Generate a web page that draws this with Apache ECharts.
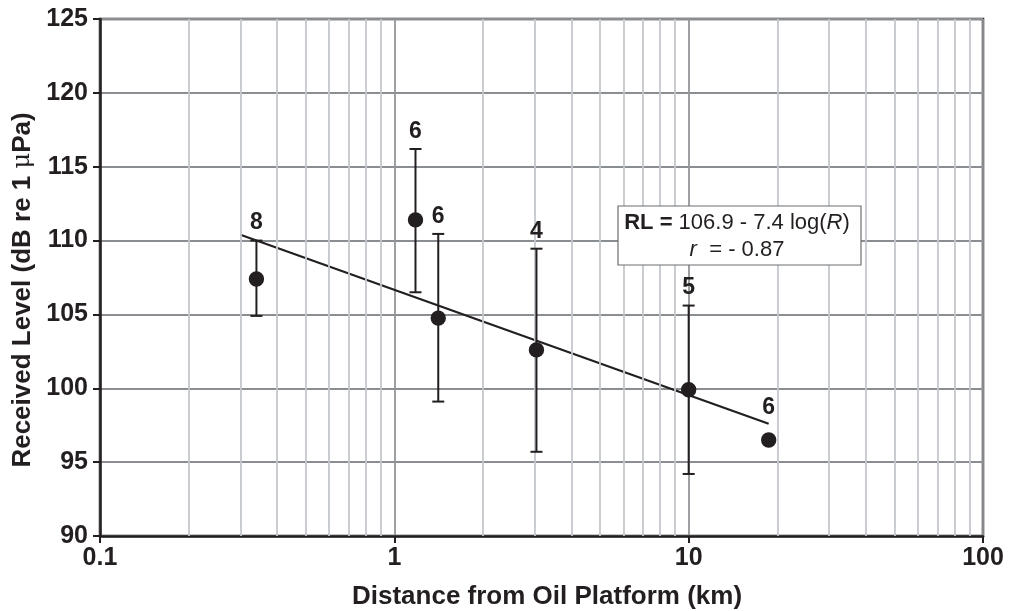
<!DOCTYPE html>
<html>
<head>
<meta charset="utf-8">
<script src="https://cdn.jsdelivr.net/npm/echarts@6/dist/echarts.min.js"></script>
<style>
html,body{margin:0;padding:0;background:#fff;}
#chart{width:1009px;height:611px;}
</style>
</head>
<body>
<div id="chart"></div>
<script>
// ---- data ----
const distanceKm = [0.34, 1.18, 1.41, 3.04, 10.0, 18.7];
const levelMean  = [107.4, 111.4, 104.75, 102.6, 99.9, 96.5];
const levelHigh  = [110.0, 116.2, 110.45, 109.45, 105.6, null];
const levelLow   = [104.9, 106.5, 99.1, 95.7, 94.2, null];
const sampleN    = [8, 6, 6, 4, 5, 6];
const fitX       = [0.3, 18.7];
const fitY       = [110.4, 97.6];
const xMin = 0.1, xMax = 100;
const yMin = 90, yMax = 125, yStep = 5;
const eqLine1 = ['RL =', ' 106.9 - 7.4 log(', 'R', ')'];
const eqLine2 = ['r', '  = - 0.87'];
const xTitle = 'Distance from Oil Platform (km)';
const yTitleParts = ['Received Level (dB re 1 ', 'μ', 'Pa)'];

const INK = '#231f20';
const FONT = 'Liberation Sans, Arial';
const chart = echarts.init(document.getElementById('chart'));

// minor log gridlines (2..9 within each decade)
const minorLines = [];
for (let d = xMin; d < xMax - 1e-9; d *= 10) {
  for (let k = 2; k <= 9; k++) minorLines.push({ xAxis: +(d * k).toPrecision(3) });
}

const pointData = [];
for (let i = 0; i < distanceKm.length; i++) {
  pointData.push([distanceKm[i], levelMean[i],
    levelLow[i] == null ? NaN : levelLow[i],
    levelHigh[i] == null ? NaN : levelHigh[i],
    sampleN[i]]);
}

const option = {
  animation: false,
  backgroundColor: '#fff',
  grid: { left: 100, right: 26, top: 19, bottom: 75, show: true, borderColor: INK, borderWidth: 2.5, backgroundColor: 'transparent' },
  xAxis: {
    type: 'log', logBase: 10, min: xMin, max: xMax,
    axisLine: { show: true, onZero: false, lineStyle: { color: INK, width: 2.5 } },
    axisTick: { show: true, length: 7, lineStyle: { color: INK, width: 2 } },
    axisLabel: { color: INK, fontFamily: FONT, fontWeight: 'bold', fontSize: 25, margin: 10,
      formatter: v => String(+v.toPrecision(3)) },
    splitLine: { show: true, lineStyle: { color: '#939598', width: 1.8 } },
    minorTick: { show: false }, minorSplitLine: { show: false }
  },
  yAxis: {
    type: 'value', min: yMin, max: yMax, interval: yStep,
    axisLine: { show: true, lineStyle: { color: INK, width: 2.5 } },
    axisTick: { show: true, length: 7, lineStyle: { color: INK, width: 2 } },
    axisLabel: { color: INK, fontFamily: FONT, fontWeight: 'bold', fontSize: 25, margin: 12 },
    splitLine: { show: true, lineStyle: { color: '#8a8d91', width: 1.8 } }
  },
  series: [
    {
      type: 'line', data: [], z: 1, silent: true,
      markLine: {
        silent: true, symbol: 'none', animation: false,
        label: { show: false },
        lineStyle: { color: '#c4c8cd', width: 1.8, type: 'solid' },
        emphasis: { disabled: true },
        data: minorLines
      }
    },
    {
      type: 'line', z: 4, silent: true, symbol: 'none',
      data: fitX.map((x, i) => [x, fitY[i]]),
      lineStyle: { color: INK, width: 2.2 }
    },
    {
      type: 'custom', z: 5, silent: true,
      data: pointData,
      renderItem: function (params, api) {
        const x = api.value(0);
        const mean = api.value(1);
        const lo = api.value(2);
        const hi = api.value(3);
        const n = api.value(4);
        const c = api.coord([x, mean]);
        const st = { stroke: INK, lineWidth: 2 };
        const cw = 6;
        const kids = [];
        let labelY;
        if (!isNaN(hi)) {
          const top = api.coord([x, hi]);
          const bot = api.coord([x, lo]);
          kids.push({ type: 'line', shape: { x1: top[0], y1: top[1], x2: bot[0], y2: bot[1] }, style: st });
          kids.push({ type: 'line', shape: { x1: top[0] - cw, y1: top[1], x2: top[0] + cw, y2: top[1] }, style: st });
          kids.push({ type: 'line', shape: { x1: bot[0] - cw, y1: bot[1], x2: bot[0] + cw, y2: bot[1] }, style: st });
          labelY = top[1] - 6;
        } else {
          labelY = c[1] - 21;
        }
        kids.push({ type: 'circle', shape: { cx: c[0], cy: c[1], r: 7.7 }, style: { fill: INK } });
        kids.push({ type: 'text', x: c[0], y: labelY,
          style: { text: String(n), align: 'center', verticalAlign: 'bottom', fill: INK,
            font: 'bold 23px ' + FONT } });
        return { type: 'group', children: kids };
      }
    }
  ],
  graphic: [
    { type: 'rect', z: 100, shape: { x: 618, y: 206, width: 243, height: 59 },
      style: { fill: '#fff', stroke: '#6d6e71', lineWidth: 1.2 } },
    { type: 'text', z: 101, x: 737, y: 236,
      style: {
        text: '{b|' + eqLine1[0] + '}{n|' + eqLine1[1] + '}{i|' + eqLine1[2] + '}{n|' + eqLine1[3] + '}\n{i|' + eqLine2[0] + '}{n|' + eqLine2[1] + '}',
        align: 'center', verticalAlign: 'middle', fill: INK,
        rich: {
          b: { fontFamily: FONT, fontWeight: 'bold', fontSize: 22, lineHeight: 27, fill: INK },
          n: { fontFamily: FONT, fontSize: 22, lineHeight: 27, fill: INK },
          i: { fontFamily: FONT, fontStyle: 'italic', fontSize: 22, lineHeight: 27, fill: INK }
        }
      }
    },
    { type: 'text', z: 101, x: 547, y: 597,
      style: { text: xTitle, align: 'center', verticalAlign: 'middle', fill: INK,
        fontFamily: FONT, fontWeight: 'bold', fontSize: 26 } },
    { type: 'text', z: 101, x: 23, y: 290, rotation: Math.PI / 2,
      style: {
        text: '{b|' + yTitleParts[0] + '}{m|' + yTitleParts[1] + '}{b|' + yTitleParts[2] + '}',
        align: 'center', verticalAlign: 'middle', fill: INK,
        rich: {
          b: { fontFamily: FONT, fontWeight: 'bold', fontSize: 26, fill: INK },
          m: { fontFamily: 'DejaVu Serif, Liberation Serif', fontSize: 24, fill: INK }
        }
      }
    }
  ]
};
chart.setOption(option);
</script>
</body>
</html>
